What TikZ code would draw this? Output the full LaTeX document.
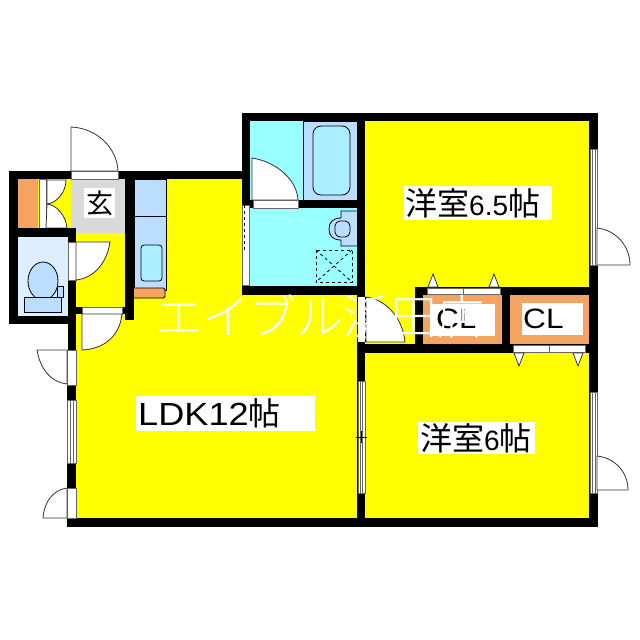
\documentclass[tikz,border=0pt]{standalone}
\usepackage{fontspec}
\setmainfont{Liberation Sans}
\newfontfamily\widefont[FakeStretch=1.13]{Liberation Sans}
\newfontfamily\jpfont{Noto Sans CJK JP}
\newfontfamily\markfont[UprightFont=* Light]{Noto Sans CJK JP}
\definecolor{ryellow}{HTML}{FFFF00}
\definecolor{rorange}{HTML}{F4A460}
\definecolor{rcyan}{HTML}{99FFFF}
\definecolor{rblue}{HTML}{BBDDFF}
\definecolor{rpale}{HTML}{DDEEFF}
\definecolor{rtub}{HTML}{AAEEFF}
\definecolor{rgray}{HTML}{D9D9D9}
\tikzstyle{wall} = [fill=black, draw=none]
\tikzstyle{leaf} = [draw=black!80, fill=white, line width=0.8pt]
\tikzstyle{strip} = [draw=black!60, fill=white, line width=0.7pt]
\tikzstyle{fixture} = [draw=black, line width=0.8pt]
\tikzstyle{roomlabel} = [font=\fontsize{32}{34}\selectfont, inner sep=0pt]
\begin{document}
\begin{tikzpicture}[x=1pt, y=-1pt]
\useasboundingbox (0,0) rectangle (640,640);
\fill[white] (0,0) rectangle (640,640);
%% room floors
\fill[ryellow] (76,179) rectangle (357,520);
\fill[ryellow] (365,121) rectangle (590,520);
\fill[ryellow] (18,179) rectangle (71,228);
\fill[rpale] (18,237) rectangle (68,316);

%% entrance and closet
\fill[rgray] (71,179) rectangle (125,233);
\fill[white] (84,188) rectangle (115,218);
\node[inner sep=0pt, font=\jpfont\fontsize{27}{29}\selectfont] at (99.5,203) (genkan) {玄};
\fill[rorange] (18,179) rectangle (38,228);
\draw[strip] (39,179) rectangle (46,228);
\draw[leaf] (46,180) -- (66,180) .. controls (66,192) and (57,203) .. (47,204) -- (47,180);
\draw[leaf] (47,204) .. controls (57,205) and (66,216) .. (67,228) -- (46,228) -- cycle;

%% toilet
\draw[fixture, fill=rblue] (43,281) ellipse [x radius=15, y radius=19];
\draw[fixture, fill=rblue] (24,297) rectangle (61,312);
\draw[fixture, fill=rblue] (57,286) rectangle (63,297);

%% kitchen
\draw[fixture, fill=rblue] (134,179) rectangle (166,290);
\draw[fixture] (134,216) -- (166,216);
\draw[fixture, fill=rtub, rounded corners=3] (141,245) rectangle (162,281);
\draw[fixture, fill=rorange, rounded corners=1.5] (131,288) rectangle (165,298);

%% bath and washroom
\fill[rcyan] (250,121) rectangle (357,286);
\draw[fixture, fill=rblue] (303,121) rectangle (357,200);
\draw[fixture, fill=rtub, rounded corners=8] (313,126) rectangle (350,195);
\draw[leaf] (252,158) .. controls (277,162) and (297,180) .. (298,200) -- (252,200) -- cycle;
\draw[fixture, fill=rblue] (357,211) -- (341,211) -- (341,218) .. controls (333,218) and (329,222) .. (329,229) .. controls (329,236) and (333,240) .. (341,240) -- (341,246) -- (357,246);
\draw[fixture, rounded corners=5] (335,221) rectangle (350,237);
\draw[fixture, dashed] (316,250) rectangle (352,282);
\draw[fixture, dashed] (316,250) -- (352,282);
\draw[fixture, dashed] (352,250) -- (316,282);

%% closets
\fill[rorange] (423,295) rectangle (502,344);
\fill[white] (430,304) rectangle (495,336);
\fill[rorange] (510,295) rectangle (589,344);
\fill[white] (522,303) rectangle (583,335);

%% walls
\fill[wall] (9,171) rectangle (71,179);
\fill[wall] (118,171) rectangle (243,179);
\fill[wall] (9,171) rectangle (18,324);
\fill[wall] (18,228) rectangle (76,237);
\fill[wall] (9,316) rectangle (76,324);
\fill[wall] (68,228) rectangle (76,242);
\fill[wall] (68,280) rectangle (76,350);
\fill[wall] (67,350) rectangle (76,527);
\fill[wall] (125,179) rectangle (134,320);
\fill[wall] (76,307) rectangle (134,314);
\fill[wall] (242,113) rectangle (598,121);
\fill[wall] (242,113) rectangle (250,295);
\fill[wall] (242,286) rectangle (365,295);
\fill[wall] (250,200) rectangle (357,208);
\fill[wall] (357,113) rectangle (365,527);
\fill[wall] (589,113) rectangle (598,527);
\fill[wall] (415,287) rectangle (598,295);
\fill[wall] (357,344) rectangle (598,353);
\fill[wall] (415,287) rectangle (423,353);
\fill[wall] (502,287) rectangle (510,353);
\fill[wall] (67,518) rectangle (598,527);

%% openings
\draw[strip] (71,171) rectangle (118,179);
\draw[leaf] (71,171) -- (71,127) .. controls (97,128) and (117,148) .. (118,171) -- cycle;
\draw[strip] (68,242) rectangle (76,280);
\draw[leaf] (76,242) -- (110,242) .. controls (107,263) and (94,278) .. (76,280) -- cycle;
\draw[strip] (82,307) rectangle (122,314);
\draw[leaf] (82,314) -- (122,314) .. controls (120,335) and (105,349) .. (82,350) -- cycle;
\draw[strip] (253,200) rectangle (298,208);
\draw[strip] (67,350) rectangle (76,385);
\draw[leaf] (67,350) -- (37,350) .. controls (40,368) and (50,382) .. (67,384) -- cycle;
\draw[strip] (67,400) rectangle (76,463);
\draw[strip] (70,400) rectangle (73,463);
\draw[strip] (67,488) rectangle (76,518);
\draw[leaf] (67,518) -- (43,518) .. controls (44,502) and (53,490) .. (67,488) -- cycle;
\draw[strip] (242,205) rectangle (249,285);
\draw[black, dashed, line width=0.8pt] (244,205) -- (244,250);
\draw[strip] (590,149) rectangle (597,265);
\draw[strip] (592.5,149) rectangle (595,265);
\draw[leaf] (597,265) -- (630,265) .. controls (630,246) and (616,230) .. (597,228) -- cycle;
\draw[strip] (590,392) rectangle (597,493);
\draw[strip] (592.5,392) rectangle (595,493);
\draw[leaf] (597,490) -- (628,490) .. controls (628,472) and (615,458) .. (597,456) -- cycle;
\draw[strip] (358,381) rectangle (365,493);
\draw[strip] (360.5,381) rectangle (362.5,493);
\draw[black, line width=0.6pt] (356,437) -- (367,437);
\draw[black, line width=0.6pt] (361.5,431) -- (361.5,443);
\fill[white] (358,297) rectangle (365,342);
\draw[leaf] (366,342) -- (405,342) .. controls (403,320) and (388,300) .. (366,297) -- cycle;
\draw[black, dashed, line width=0.7pt] (365,297) -- (365,342);

%% closet doors
\draw[strip] (427,288) rectangle (463,294);
\draw[strip] (463,288) rectangle (500,294);
\draw[leaf] (428,287) -- (433,274) -- (438,287) -- cycle;
\draw[leaf] (489,287) -- (494,274) -- (499,287) -- cycle;
\draw[strip] (513,345) rectangle (549,352);
\draw[strip] (549,345) rectangle (585,352);
\draw[leaf] (514,353) -- (519,366) -- (524,353) -- cycle;
\draw[leaf] (573,353) -- (578,366) -- (583,353) -- cycle;

%% labels
\fill[white] (404,186) rectangle (552,220);
\fill[white] (136,396) rectangle (315,431);
\fill[white] (418,422) rectangle (535,454);
\node[roomlabel, anchor=west] at (405,203) (western65) {{\jpfont 洋室}{\fontsize{28}{30}\selectfont 6.5}{\jpfont 帖}};
\node[roomlabel, anchor=west] at (138,413) (ldk) {{\widefont LDK12}{\jpfont 帖}};
\node[roomlabel, anchor=west] at (420,438) (western6) {{\jpfont 洋室}{\fontsize{28}{30}\selectfont 6}{\jpfont 帖}};
\node[roomlabel, anchor=west, font=\widefont\fontsize{28}{30}\selectfont] at (436,319) (closetleft) {CL};
\node[roomlabel, anchor=west, font=\widefont\fontsize{28}{30}\selectfont] at (523,319) (closetright) {CL};
\node[font=\markfont\fontsize{47}{50}\selectfont, white, inner sep=0pt, anchor=west] at (155,316) (mark) {エイブル浜田店};
\end{tikzpicture}
\end{document}
